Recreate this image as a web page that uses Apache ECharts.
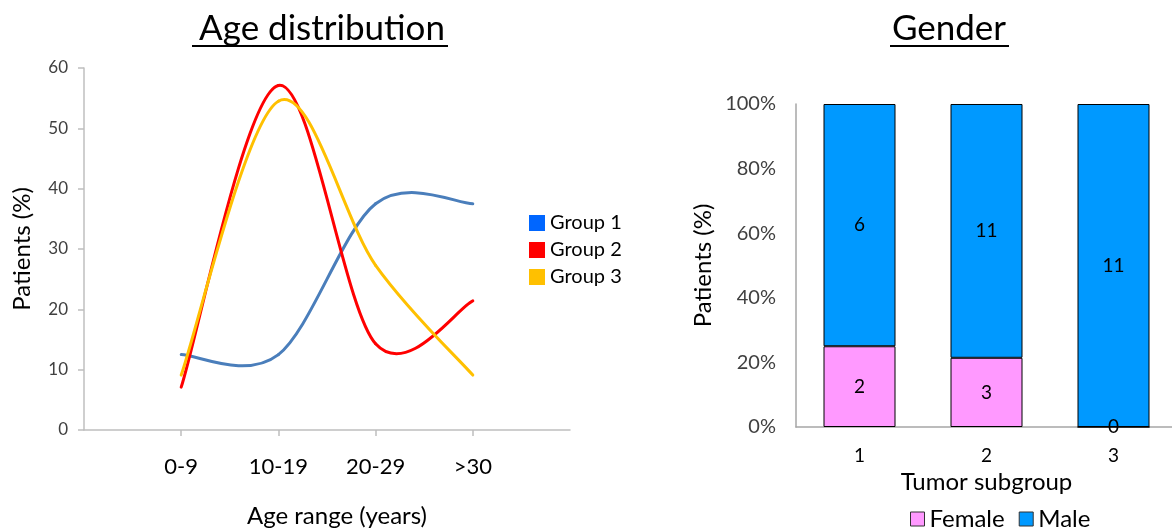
<!DOCTYPE html>
<html>
<head>
<meta charset="utf-8">
<script src="https://cdn.jsdelivr.net/npm/echarts@6/dist/echarts.min.js"></script>
<style>html,body{margin:0;padding:0;background:#fff}#c{width:1172px;height:531px}</style>
</head>
<body>
<div id="c"></div>
<script>
// ---- data: Age distribution (percent of patients) ----
const ageCategories = ['', '0-9', '10-19', '20-29', '>30', ''];
const group1 = [null, 12.5, 12.5, 37.5, 37.5, null];
const group2 = [null, 7.1, 57.1, 14.3, 21.4, null];
const group3 = [null, 9.1, 54.5, 27.3, 9.1, null];
const ageYTicks = [0, 10, 20, 30, 40, 50, 60];
// ---- data: Gender ----
const tumorSubgroups = ['1', '2', '3'];
const femaleCounts = [2, 3, 0];
const maleCounts = [6, 11, 11];

const totals = femaleCounts.map((f, i) => f + maleCounts[i]);
const femalePct = femaleCounts.map((f, i) => f / totals[i] * 100);
const malePct = maleCounts.map((m, i) => m / totals[i] * 100);

const FONT = 'Lato, "Open Sans", sans-serif';
const chart = echarts.init(document.getElementById('c'));

// Excel-style smoothed line (Catmull-Rom -> cubic Bezier) drawn via the axis scales
function smoothSeries(name, values, color) {
  const pts = [];
  values.forEach((v, i) => { if (v !== null) pts.push([i, v]); });
  return {
    name: name, type: 'custom', xAxisIndex: 0, yAxisIndex: 0,
    data: pts, encode: { x: 0, y: 1 },
    itemStyle: { color: color },
    renderItem: function (params, api) {
      if (params.dataIndex !== 0) return null;
      const P = pts.map(p => api.coord(p));
      const children = [];
      for (let i = 0; i < P.length - 1; i++) {
        const p0 = P[Math.max(i - 1, 0)], p1 = P[i], p2 = P[i + 1], p3 = P[Math.min(i + 2, P.length - 1)];
        children.push({
          type: 'bezierCurve',
          shape: {
            x1: p1[0], y1: p1[1], x2: p2[0], y2: p2[1],
            cpx1: p1[0] + (p2[0] - p0[0]) / 6, cpy1: p1[1] + (p2[1] - p0[1]) / 6,
            cpx2: p2[0] - (p3[0] - p1[0]) / 6, cpy2: p2[1] - (p3[1] - p1[1]) / 6
          },
          style: { stroke: color, lineWidth: 3, fill: null, lineCap: 'round' }
        });
      }
      return { type: 'group', children: children };
    }
  };
}

chart.setOption({
  animation: false,
  textStyle: { fontFamily: FONT },
  title: [
    { text: 'Age distribution', left: 317, top: 6, textAlign: 'center',
      textStyle: { fontFamily: FONT, fontSize: 35, fontWeight: 'normal', color: '#000' } },
    { text: 'Gender', left: 944, top: 6, textAlign: 'center',
      textStyle: { fontFamily: FONT, fontSize: 35, fontWeight: 'normal', color: '#000' } }
  ],
  graphic: [
    { type: 'line', shape: { x1: 192, y1: 46, x2: 448, y2: 46 }, style: { stroke: '#000', lineWidth: 2 } },
    { type: 'line', shape: { x1: 890, y1: 46, x2: 1009, y2: 46 }, style: { stroke: '#000', lineWidth: 2 } }
  ],
  legend: [
    { orient: 'vertical', left: 524, top: 208, itemWidth: 16, itemHeight: 16, itemGap: 7,
      textStyle: { fontFamily: FONT, fontSize: 20, color: '#000' },
      data: [
        { name: 'Group 1', icon: 'rect', itemStyle: { color: '#0066ff' } },
        { name: 'Group 2', icon: 'rect', itemStyle: { color: '#ff0000' } },
        { name: 'Group 3', icon: 'rect', itemStyle: { color: '#ffc000' } }
      ] },
    { orient: 'horizontal', left: 905, top: 502, itemWidth: 14, itemHeight: 14, itemGap: 14,
      textStyle: { fontFamily: FONT, fontSize: 24, color: '#000' },
      data: [
        { name: 'Female', icon: 'rect', itemStyle: { color: '#ff99ff', borderColor: '#333', borderWidth: 1 } },
        { name: 'Male', icon: 'rect', itemStyle: { color: '#0099ff', borderColor: '#333', borderWidth: 1 } }
      ] }
  ],
  grid: [
    { left: 84, top: 68, width: 486, height: 362, outerBoundsMode: 'none', containLabel: false },
    { left: 796, top: 104, width: 381, height: 323, outerBoundsMode: 'none', containLabel: false }
  ],
  xAxis: [
    { type: 'category', gridIndex: 0, data: ageCategories, boundaryGap: false,
      axisLine: { lineStyle: { color: '#bfbfbf', width: 1.5 } },
      axisTick: { show: true, length: 6, lineStyle: { color: '#bfbfbf', width: 1.5 },
                  interval: (i, v) => v !== '' },
      axisLabel: { fontFamily: FONT, fontSize: 22, color: '#000', margin: 26, interval: 0 },
      name: 'Age range (years)', nameLocation: 'middle', nameGap: 74,
      nameTextStyle: { fontFamily: FONT, fontSize: 24, color: '#000', padding: [0, 0, 0, 20] } },
    { type: 'category', gridIndex: 1, data: tumorSubgroups,
      axisLine: { lineStyle: { color: '#a6a6a6', width: 1.5 } },
      axisTick: { show: false },
      axisLabel: { fontFamily: FONT, fontSize: 19, color: '#000', margin: 19 },
      name: 'Tumor subgroup', nameLocation: 'middle', nameGap: 42,
      nameTextStyle: { fontFamily: FONT, fontSize: 24, color: '#000' } }
  ],
  yAxis: [
    { type: 'value', gridIndex: 0, min: ageYTicks[0], max: ageYTicks[ageYTicks.length - 1], interval: 10,
      axisLine: { show: true, lineStyle: { color: '#bfbfbf', width: 1.5 } },
      axisTick: { show: true, length: 6, lineStyle: { color: '#bfbfbf', width: 1.5 } },
      splitLine: { show: false },
      axisLabel: { fontFamily: FONT, fontSize: 17, color: '#404040', margin: 16 },
      name: 'Patients (%)', nameLocation: 'middle', nameGap: 50,
      nameTextStyle: { fontFamily: FONT, fontSize: 24, color: '#000' } },
    { type: 'value', gridIndex: 1, min: 0, max: 100, interval: 20,
      axisLine: { show: true, lineStyle: { color: '#a6a6a6', width: 1.5 } },
      axisTick: { show: false },
      splitLine: { show: false },
      axisLabel: { fontFamily: FONT, fontSize: 20, color: '#404040', margin: 20, formatter: '{value}%' },
      name: 'Patients (%)', nameLocation: 'middle', nameGap: 81,
      nameTextStyle: { fontFamily: FONT, fontSize: 24, color: '#000' } }
  ],
  series: [
    smoothSeries('Group 1', group1, '#4a7ebb'),
    smoothSeries('Group 2', group2, '#ff0000'),
    smoothSeries('Group 3', group3, '#ffc000'),
    { name: 'Female', type: 'bar', xAxisIndex: 1, yAxisIndex: 1, stack: 'g', barWidth: 72,
      data: femalePct.map((v, i) => ({ value: v, count: femaleCounts[i] })),
      itemStyle: { color: '#ff99ff', borderColor: '#000', borderWidth: 1 },
      label: { show: true, position: 'inside', fontFamily: FONT, fontSize: 19, color: '#000',
               formatter: p => String(p.data.count) } },
    { name: 'Male', type: 'bar', xAxisIndex: 1, yAxisIndex: 1, stack: 'g', barWidth: 72,
      data: malePct.map((v, i) => ({ value: v, count: maleCounts[i] })),
      itemStyle: { color: '#0099ff', borderColor: '#000', borderWidth: 1 },
      label: { show: true, position: 'inside', fontFamily: FONT, fontSize: 19, color: '#000',
               formatter: p => String(p.data.count) } }
  ]
});
</script>
</body>
</html>
